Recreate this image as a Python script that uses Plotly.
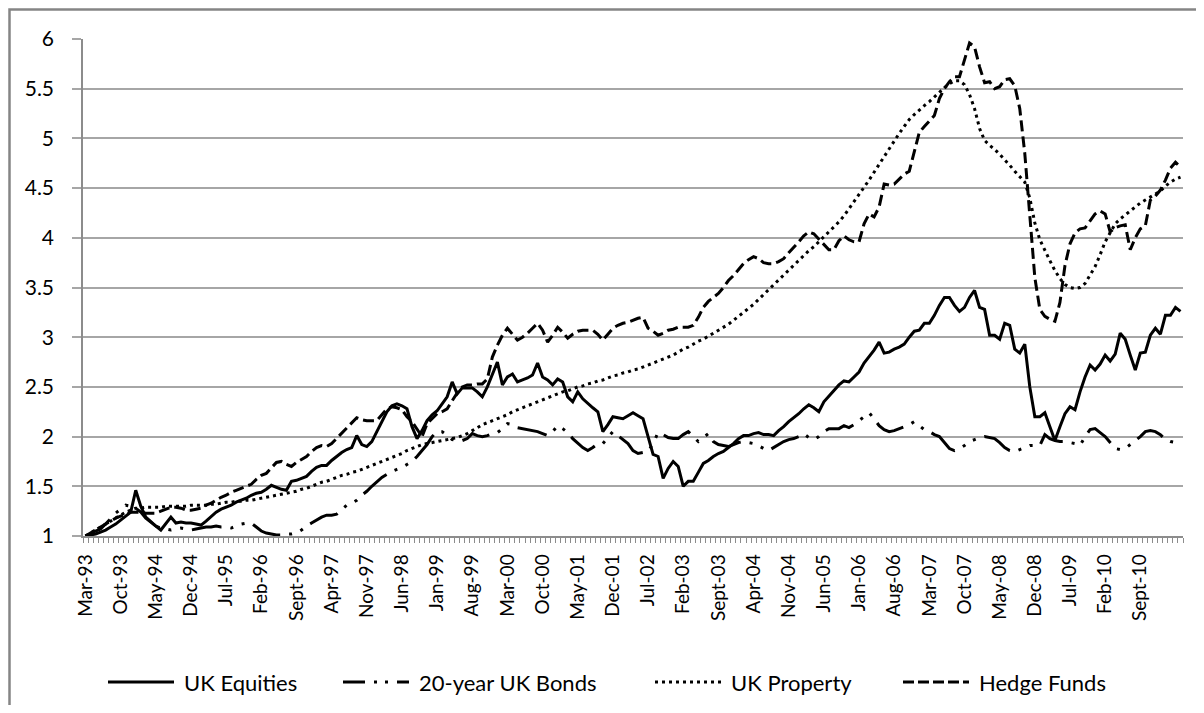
import plotly.graph_objects as go

# ---- categories (monthly, Mar-93 .. May-11) ----
month_names = ["Jan", "Feb", "Mar", "Apr", "May", "Jun", "Jul", "Aug", "Sept", "Oct", "Nov", "Dec"]
months = []
y, m = 1993, 2
while (y, m) <= (2011, 4):
    months.append(f"{month_names[m]}-{y % 100:02d}")
    m += 1
    if m == 12:
        m = 0
        y += 1

# tick labels shown on the category axis (every 7th month)
x_tick_labels = [
    "Mar-93", "Oct-93", "May-94", "Dec-94", "Jul-95", "Feb-96", "Sept-96", "Apr-97",
    "Nov-97", "Jun-98", "Jan-99", "Aug-99", "Mar-00", "Oct-00", "May-01", "Dec-01",
    "Jul-02", "Feb-03", "Sept-03", "Apr-04", "Nov-04", "Jun-05", "Jan-06", "Aug-06",
    "Mar-07", "Oct-07", "May-08", "Dec-08", "Jul-09", "Feb-10", "Sept-10",
]

# ---- series values (one row per calendar year) ----
uk_equities = [
    1.00, 1.01, 1.02, 1.04, 1.06, 1.09, 1.12, 1.16, 1.20, 1.24,  # 1993 Mar-Dec
    1.46, 1.30, 1.19, 1.14, 1.10, 1.06, 1.12, 1.19, 1.13, 1.14, 1.13, 1.13,  # 1994
    1.12, 1.11, 1.15, 1.20, 1.24, 1.27, 1.29, 1.31, 1.34, 1.36, 1.38, 1.41,  # 1995
    1.43, 1.44, 1.47, 1.51, 1.49, 1.47, 1.46, 1.55, 1.56, 1.58, 1.60, 1.65,  # 1996
    1.69, 1.71, 1.71, 1.76, 1.80, 1.84, 1.87, 1.89, 2.01, 1.92, 1.90, 1.95,  # 1997
    2.05, 2.15, 2.25, 2.31, 2.33, 2.31, 2.28, 2.10, 1.98, 2.06, 2.16, 2.22,  # 1998
    2.26, 2.33, 2.40, 2.55, 2.43, 2.49, 2.49, 2.49, 2.45, 2.40, 2.50, 2.62,  # 1999
    2.75, 2.52, 2.60, 2.63, 2.55, 2.57, 2.59, 2.62, 2.74, 2.60, 2.57, 2.52,  # 2000
    2.58, 2.55, 2.40, 2.35, 2.45, 2.38, 2.33, 2.29, 2.25, 2.05, 2.12, 2.20,  # 2001
    2.19, 2.18, 2.21, 2.24, 2.21, 2.18, 2.00, 1.82, 1.80, 1.58, 1.68, 1.75,  # 2002
    1.70, 1.50, 1.55, 1.55, 1.64, 1.73, 1.76, 1.80, 1.83, 1.85, 1.89, 1.93,  # 2003
    1.98, 2.01, 2.01, 2.03, 2.04, 2.02, 2.02, 2.01, 2.06, 2.10, 2.15, 2.19,  # 2004
    2.23, 2.28, 2.32, 2.29, 2.25, 2.35, 2.41, 2.47, 2.52, 2.56, 2.55, 2.60,  # 2005
    2.65, 2.74, 2.80, 2.87, 2.95, 2.84, 2.85, 2.88, 2.90, 2.93, 3.00, 3.06,  # 2006
    3.07, 3.14, 3.14, 3.22, 3.32, 3.40, 3.40, 3.32, 3.26, 3.30, 3.40, 3.47,  # 2007
    3.30, 3.28, 3.02, 3.02, 2.98, 3.14, 3.12, 2.88, 2.84, 2.93, 2.50, 2.20,  # 2008
    2.20, 2.24, 2.10, 1.96, 2.10, 2.23, 2.30, 2.27, 2.45, 2.60, 2.72, 2.67,  # 2009
    2.73, 2.82, 2.76, 2.83, 3.04, 2.98, 2.82, 2.67, 2.84, 2.85, 3.02, 3.09,  # 2010
    3.03, 3.22, 3.22, 3.30, 3.26,  # 2011 Jan-May
]

uk_bonds_20y = [
    1.00, 1.02, 1.05, 1.07, 1.12, 1.18, 1.23, 1.27, 1.31, 1.30,  # 1993
    1.28, 1.24, 1.18, 1.14, 1.10, 1.08, 1.07, 1.06, 1.07, 1.08, 1.07, 1.06,  # 1994
    1.07, 1.08, 1.09, 1.09, 1.10, 1.09, 1.09, 1.08, 1.10, 1.12, 1.13, 1.13,  # 1995
    1.09, 1.05, 1.03, 1.02, 1.01, 1.01, 1.02, 1.02, 1.03, 1.06, 1.10, 1.13,  # 1996
    1.16, 1.19, 1.21, 1.21, 1.22, 1.27, 1.31, 1.33, 1.36, 1.41, 1.45, 1.50,  # 1997
    1.55, 1.59, 1.62, 1.65, 1.67, 1.69, 1.72, 1.75, 1.80, 1.86, 1.92, 2.00,  # 1998
    2.05, 2.05, 2.01, 1.97, 1.96, 1.96, 1.98, 2.03, 2.01, 2.00, 2.01, 2.03,  # 1999
    2.04, 2.08, 2.13, 2.12, 2.09, 2.08, 2.07, 2.06, 2.05, 2.03, 2.01, 2.05,  # 2000
    2.11, 2.08, 2.04, 1.98, 1.93, 1.89, 1.86, 1.89, 1.93, 1.93, 1.99, 2.05,  # 2001
    2.01, 1.97, 1.93, 1.86, 1.83, 1.84, 1.85, 1.93, 2.04, 2.02, 1.99, 1.98,  # 2002
    1.98, 2.02, 2.05, 2.00, 1.95, 1.99, 2.03, 1.95, 1.92, 1.91, 1.90, 1.92,  # 2003
    1.94, 1.95, 1.94, 1.93, 1.91, 1.88, 1.86, 1.89, 1.92, 1.95, 1.97, 1.98,  # 2004
    2.00, 2.03, 1.99, 1.97, 2.00, 2.05, 2.08, 2.08, 2.08, 2.11, 2.09, 2.12,  # 2005
    2.16, 2.20, 2.24, 2.18, 2.11, 2.07, 2.05, 2.06, 2.08, 2.10, 2.12, 2.15,  # 2006
    2.11, 2.07, 2.05, 2.02, 2.00, 1.94, 1.88, 1.86, 1.88, 1.91, 1.95, 1.97,  # 2007
    1.99, 2.00, 1.99, 1.98, 1.94, 1.89, 1.86, 1.85, 1.87, 1.89, 1.91, 1.91,  # 2008
    1.91, 2.02, 1.98, 1.96, 1.95, 1.95, 1.94, 1.93, 1.91, 2.00, 2.07, 2.08,  # 2009
    2.04, 2.00, 1.94, 1.88, 1.87, 1.88, 1.92, 1.96, 2.00, 2.05, 2.06, 2.05,  # 2010
    2.02, 1.97, 1.95, 1.94, 1.93,  # 2011
]

uk_property = [
    1.00, 1.03, 1.06, 1.09, 1.12, 1.15, 1.18, 1.21, 1.24, 1.26,  # 1993
    1.28, 1.28, 1.29, 1.29, 1.29, 1.29, 1.30, 1.30, 1.30, 1.30, 1.30, 1.31,  # 1994
    1.31, 1.31, 1.31, 1.32, 1.32, 1.33, 1.34, 1.34, 1.35, 1.35, 1.36, 1.36,  # 1995
    1.37, 1.38, 1.39, 1.40, 1.41, 1.42, 1.43, 1.44, 1.45, 1.47, 1.48, 1.50,  # 1996
    1.52, 1.54, 1.55, 1.57, 1.59, 1.61, 1.62, 1.64, 1.65, 1.67, 1.69, 1.71,  # 1997
    1.73, 1.75, 1.77, 1.79, 1.81, 1.83, 1.86, 1.88, 1.90, 1.92, 1.93, 1.94,  # 1998
    1.95, 1.96, 1.97, 1.98, 1.99, 2.01, 2.03, 2.06, 2.09, 2.12, 2.14, 2.16,  # 1999
    2.18, 2.20, 2.22, 2.25, 2.27, 2.29, 2.31, 2.33, 2.35, 2.37, 2.39, 2.41,  # 2000
    2.43, 2.45, 2.46, 2.48, 2.50, 2.51, 2.53, 2.54, 2.56, 2.57, 2.59, 2.61,  # 2001
    2.62, 2.64, 2.65, 2.67, 2.68, 2.70, 2.72, 2.74, 2.76, 2.78, 2.80, 2.82,  # 2002
    2.85, 2.88, 2.90, 2.93, 2.96, 2.98, 3.01, 3.04, 3.07, 3.10, 3.13, 3.17,  # 2003
    3.21, 3.25, 3.29, 3.33, 3.38, 3.43, 3.48, 3.52, 3.57, 3.62, 3.67, 3.72,  # 2004
    3.77, 3.82, 3.87, 3.91, 3.96, 4.00, 4.05, 4.10, 4.16, 4.22, 4.29, 4.36,  # 2005
    4.43, 4.50, 4.58, 4.66, 4.74, 4.82, 4.90, 4.98, 5.05, 5.12, 5.19, 5.24,  # 2006
    5.29, 5.33, 5.37, 5.42, 5.47, 5.51, 5.55, 5.58, 5.58, 5.54, 5.44, 5.30,  # 2007
    5.10, 4.98, 4.93, 4.89, 4.84, 4.79, 4.73, 4.67, 4.61, 4.56, 4.40, 4.15,  # 2008
    3.98, 3.87, 3.77, 3.67, 3.59, 3.53, 3.50, 3.49, 3.50, 3.54, 3.62, 3.71,  # 2009
    3.83, 3.96, 4.05, 4.14, 4.19, 4.23, 4.27, 4.31, 4.35, 4.38, 4.41, 4.44,  # 2010
    4.47, 4.52, 4.56, 4.59, 4.61,  # 2011
]

hedge_funds = [
    1.00, 1.03, 1.06, 1.09, 1.12, 1.15, 1.18, 1.20, 1.22, 1.24,  # 1993
    1.24, 1.24, 1.23, 1.23, 1.23, 1.25, 1.27, 1.29, 1.29, 1.28, 1.26, 1.26,  # 1994
    1.27, 1.28, 1.31, 1.33, 1.36, 1.39, 1.41, 1.44, 1.46, 1.48, 1.50, 1.52,  # 1995
    1.57, 1.61, 1.63, 1.68, 1.74, 1.75, 1.72, 1.70, 1.74, 1.77, 1.80, 1.85,  # 1996
    1.89, 1.91, 1.90, 1.93, 1.98, 2.03, 2.08, 2.14, 2.19, 2.17, 2.16, 2.16,  # 1997
    2.16, 2.22, 2.28, 2.30, 2.29, 2.27, 2.20, 2.15, 2.08, 2.00, 2.13, 2.18,  # 1998
    2.23, 2.25, 2.28, 2.36, 2.44, 2.50, 2.52, 2.52, 2.53, 2.53, 2.58, 2.80,  # 1999
    2.92, 3.02, 3.09, 3.03, 2.97, 3.00, 3.04, 3.09, 3.14, 3.07, 2.95, 3.02,  # 2000
    3.10, 3.05, 2.99, 3.03, 3.06, 3.07, 3.07, 3.07, 3.03, 2.97, 3.03, 3.09,  # 2001
    3.12, 3.14, 3.15, 3.17, 3.19, 3.20, 3.09, 3.06, 3.02, 3.04, 3.07, 3.08,  # 2002
    3.10, 3.10, 3.10, 3.12, 3.20, 3.30, 3.36, 3.40, 3.44, 3.50, 3.57, 3.62,  # 2003
    3.68, 3.74, 3.78, 3.81, 3.79, 3.75, 3.74, 3.74, 3.76, 3.79, 3.85, 3.90,  # 2004
    3.96, 4.02, 4.06, 4.04, 3.99, 3.93, 3.88, 3.88, 3.97, 4.02, 3.98, 3.96,  # 2005
    3.96, 4.14, 4.24, 4.21, 4.31, 4.54, 4.53, 4.54, 4.59, 4.64, 4.67, 4.88,  # 2006
    5.06, 5.12, 5.17, 5.23, 5.40, 5.50, 5.57, 5.62, 5.62, 5.78, 5.96, 5.92,  # 2007
    5.72, 5.56, 5.57, 5.50, 5.52, 5.59, 5.60, 5.53, 5.30, 4.85, 4.25, 3.60,  # 2008
    3.28, 3.21, 3.18, 3.16, 3.35, 3.72, 3.94, 4.05, 4.09, 4.10, 4.17, 4.24,  # 2009
    4.27, 4.24, 4.06, 4.10, 4.12, 4.13, 3.88, 4.00, 4.09, 4.12, 4.38, 4.42,  # 2010
    4.48, 4.58, 4.70, 4.76, 4.71,  # 2011
]

series_names = ["UK Equities", "20-year UK Bonds", "UK Property", "Hedge Funds"]
series_values = [uk_equities, uk_bonds_20y, uk_property, hedge_funds]
series_dash = ["solid", "30px,9px,3px,9px,3px,9px", "3px,4px", "11px,5px"]
legend_dash = ["solid", "22px,9px,3px,8px,3px,9px", "3px,4px", "11px,4px"]

y_ticks = [1, 1.5, 2, 2.5, 3, 3.5, 4, 4.5, 5, 5.5, 6]
y_ticktext = ["1", "1.5", "2", "2.5", "3", "3.5", "4", "4.5", "5", "5.5", "6"]

for v in series_values:
    assert len(v) == len(months), (len(v), len(months))

x_idx = list(range(len(months)))
tick_pos = [months.index(lbl) for lbl in x_tick_labels]

FONT = "Lato, Carlito, Calibri, 'Open Sans', sans-serif"

# ---- geometry (page has an 8px body margin, so the figure is shifted) ----
FIG_W, FIG_H = 1188, 697
M_L, M_T, M_R, M_B = 75, 31, 13, 169
PLOT_W = FIG_W - M_L - M_R
PLOT_H = FIG_H - M_T - M_B


def px_x(p):  # absolute page pixel -> paper x
    return (p - 8 - M_L) / PLOT_W


def px_y(p):  # absolute page pixel -> paper y
    return (FIG_H - M_B - (p - 8)) / PLOT_H


fig = go.Figure()
for name, vals, dash in zip(series_names, series_values, series_dash):
    fig.add_trace(go.Scatter(
        x=x_idx, y=vals, name=name, mode="lines",
        line=dict(color="black", width=3, dash=dash),
        hoverinfo="skip", showlegend=False,
    ))

# custom legend (long line samples like the original)
legend_starts = [108, 343, 655, 903]
sample_len = 66
legend_y = 682
shapes = [dict(
    type="rect", xref="paper", yref="paper",
    x0=px_x(9.5), x1=1.2, y0=-0.6, y1=px_y(9.5),
    line=dict(color="#858585", width=2.5), fillcolor="rgba(0,0,0,0)", layer="below",
)]
annotations = []
for name, dash, x0 in zip(series_names, legend_dash, legend_starts):
    shapes.append(dict(
        type="line", xref="paper", yref="paper",
        x0=px_x(x0), x1=px_x(x0 + sample_len), y0=px_y(legend_y), y1=px_y(legend_y),
        line=dict(color="black", width=3, dash=dash),
    ))
    annotations.append(dict(
        text=name, xref="paper", yref="paper",
        x=px_x(x0 + sample_len + 8), y=px_y(legend_y),
        xanchor="left", yanchor="middle", showarrow=False,
        font=dict(family=FONT, size=22, color="black"),
    ))

fig.update_layout(
    width=FIG_W, height=FIG_H,
    margin=dict(l=M_L, r=M_R, t=M_T, b=M_B, autoexpand=False),
    paper_bgcolor="white", plot_bgcolor="white",
    font=dict(family=FONT, color="black", size=19),
    showlegend=False,
    shapes=shapes,
    annotations=annotations,
)

fig.update_xaxes(
    range=[-0.5, len(months) - 0.5], automargin=False,
    tickmode="array", tickvals=tick_pos, ticktext=x_tick_labels,
    tickangle=-90, tickfont=dict(size=19, family=FONT),
    ticks="", showgrid=False, zeroline=False,
    showline=True, linecolor="#8c8c8c", linewidth=1.5,
    minor=dict(ticks="outside", ticklen=5, tickcolor="#8c8c8c", tickwidth=1,
               tick0=-0.5, dtick=1, showgrid=False),
    ticklabelstandoff=9,
)
fig.update_yaxes(
    range=[1, 6], automargin=False,
    tickmode="array", tickvals=y_ticks, ticktext=y_ticktext,
    tickfont=dict(size=21, family=FONT),
    ticks="outside", ticklen=9, tickcolor="#a6a6a6", tickwidth=1.5,
    showgrid=True, gridcolor="#a6a6a6", gridwidth=1.5,
    zeroline=False, showline=True, linecolor="#8c8c8c", linewidth=1.5,
    ticklabelstandoff=14,
)

fig.write_html("out.html")
